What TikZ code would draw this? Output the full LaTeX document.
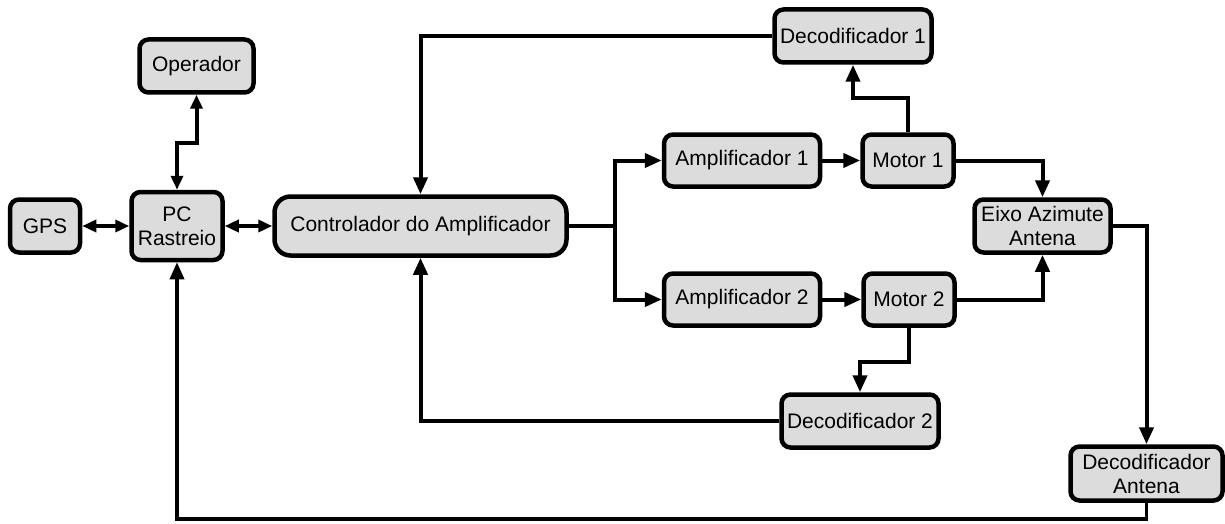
\documentclass[tikz,border=0pt]{standalone}
\usepackage{fontspec}
\setmainfont{Liberation Sans}
\usetikzlibrary{arrows.meta}
\definecolor{boxgray}{RGB}{220,220,220}
\tikzset{
  blk/.style={draw=black, fill=boxgray, line width=4.5pt, rounded corners=9pt,
    inner sep=0pt, align=center, font=\fontsize{21}{24}\selectfont},
  conn/.style={draw=black, line width=4pt},
  tip/.style={-{Triangle[length=17pt,width=14pt]}},
  dtip/.style={{Triangle[length=14pt,width=12pt]}-{Triangle[length=14pt,width=12pt]}}
}
\begin{document}
\begin{tikzpicture}[x=1pt,y=-1pt]
\useasboundingbox (0,0) rectangle (1225,524);
% nodes
\node[blk, minimum width=70pt, minimum height=53pt] (gps) at (45,226) {GPS};
\node[blk, minimum width=91pt, minimum height=68pt] (pc) at (177,226) {PC\\Rastreio};
\node[blk, minimum width=114pt, minimum height=53pt] (op) at (196.5,66) {Operador};
\node[blk, minimum width=292pt, minimum height=59pt, rounded corners=16pt] (ctrl) at (420.5,226) {Controlador do Amplificador};
\node[blk, minimum width=156pt, minimum height=52pt] (amp1) at (742,160.5) {Amplificador 1};
\node[blk, minimum width=91pt, minimum height=52pt] (mot1) at (908,160.5) {Motor 1};
\node[blk, minimum width=157pt, minimum height=53pt] (dec1) at (853,36) {Decodificador 1};
\node[blk, minimum width=156pt, minimum height=52pt] (amp2) at (742,299.5) {Amplificador 2};
\node[blk, minimum width=91pt, minimum height=52pt] (mot2) at (909,299.5) {Motor 2};
\node[blk, minimum width=157pt, minimum height=53pt] (dec2) at (860,421) {Decodificador 2};
\node[blk, minimum width=136pt, minimum height=53pt] (eixo) at (1042.5,226) {Eixo Azimute\\Antena};
\node[blk, minimum width=152pt, minimum height=54pt] (deca) at (1146.5,473.5) {Decodificador\\Antena};
% helper coordinates
\coordinate (opmid) at (0,143);
\coordinate (split) at (615,226);
\coordinate (m1up) at (0,98);
\coordinate (m2dn) at (0,362);
\coordinate (bot) at (0,519);
% connectors
\draw[conn,dtip] (gps) -- (pc);
\draw[conn,dtip] (pc) -- (ctrl);
\draw[conn,dtip] (pc.north) -- (pc.north |- opmid) -| (op.south);
\draw[conn] (ctrl.east) -- (split);
\draw[conn,tip] (split) |- (amp1.west);
\draw[conn,tip] (split) |- (amp2.west);
\draw[conn,tip] (amp1) -- (mot1);
\draw[conn,tip] (amp2) -- (mot2);
\draw[conn,tip] (mot1.north) -- (mot1.north |- m1up) -| (dec1.south);
\draw[conn,tip] (dec1.west) -| (ctrl.north);
\draw[conn,tip] (mot1.east) -| (eixo.north);
\draw[conn,tip] (mot2.east) -| (eixo.south);
\draw[conn,tip] (mot2.south) -- (mot2.south |- m2dn) -| (dec2.north);
\draw[conn,tip] (dec2.west) -| (ctrl.south);
\draw[conn,tip] (eixo.east) -| (deca.north);
\draw[conn,tip,line width=3.5pt] (deca.south) -- (deca.south |- bot) -| (pc.south);
\end{tikzpicture}
\end{document}
